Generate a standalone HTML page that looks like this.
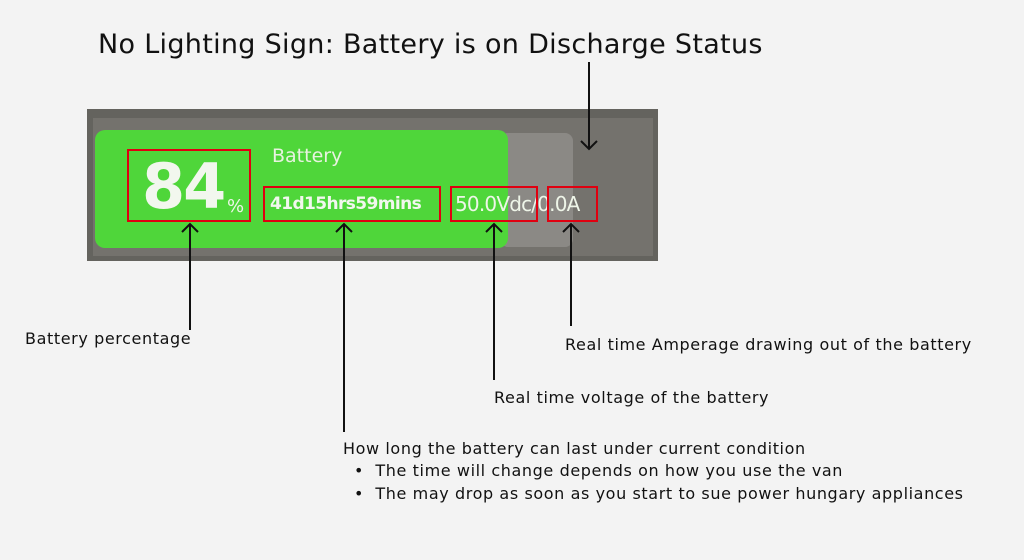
<!DOCTYPE html>
<html><head><style>
body{margin:0;width:1024px;height:560px;background:#f3f3f3;position:relative;overflow:hidden;font-family:"DejaVu Sans",sans-serif;color:#111}
.a{position:absolute}
.t{font-size:16px;white-space:nowrap;letter-spacing:0.6px}
.rb{position:absolute;border:2px solid #e00010;box-sizing:border-box}
</style></head><body>
<div class="a" style="left:98px;top:29px;font-size:27px;white-space:nowrap;letter-spacing:0.3px">No Lighting Sign: Battery is on Discharge Status</div>
<div class="a" style="left:87px;top:109px;width:571px;height:152px;background:#64635e"></div>
<div class="a" style="left:93px;top:118px;width:560px;height:138px;background:#74726d"></div>
<div class="a" style="left:500px;top:133px;width:73px;height:114px;background:#8b8985;border-radius:8px"></div>
<div class="a" style="left:95px;top:130px;width:413px;height:118px;background:#4fd63a;border-radius:10px"></div>
<div class="a" style="left:272px;top:145px;font-size:19px;color:#e8f2e0">Battery</div>
<div class="a" style="left:142px;top:150px;font-size:62px;font-weight:bold;color:#f2f7ee;letter-spacing:-2px">84</div>
<div class="a" style="left:227px;top:196px;font-size:18px;color:#eef5e8">%</div>
<div class="a" style="left:270px;top:194px;font-size:17px;font-weight:bold;color:#f2f7ee;letter-spacing:-0.6px">41d15hrs59mins</div>
<div class="a" style="left:455px;top:192px;font-size:20px;color:#eef5e8;letter-spacing:-0.8px">50.0Vdc/0.0A</div>
<div class="rb" style="left:127px;top:149px;width:124px;height:73px"></div>
<div class="rb" style="left:263px;top:186px;width:178px;height:36px"></div>
<div class="rb" style="left:450px;top:186px;width:88px;height:36px"></div>
<div class="rb" style="left:547px;top:186px;width:51px;height:36px"></div>
<svg class="a" style="left:0;top:0" width="1024" height="560">
<g stroke="#111" stroke-width="2" fill="none">
<path d="M589 62V149M581 141L589 149L597 141"/>
<path d="M190 330V224M182 232L190 224L198 232"/>
<path d="M344 432V224M336 232L344 224L352 232"/>
<path d="M494 380V224M486 232L494 224L502 232"/>
<path d="M571 326V224M563 232L571 224L579 232"/>
</g></svg>
<div class="a t" style="left:25px;top:329px">Battery percentage</div>
<div class="a t" style="left:565px;top:335px">Real time Amperage drawing out of the battery</div>
<div class="a t" style="left:494px;top:388px">Real time voltage of the battery</div>
<div class="a t" style="left:343px;top:439px">How long the battery can last under current condition</div>
<div class="a t" style="left:354px;top:461px">•&nbsp;&nbsp;The time will change depends on how you use the van</div>
<div class="a t" style="left:354px;top:484px">•&nbsp;&nbsp;The may drop as soon as you start to sue power hungary appliances</div>
</body></html>
